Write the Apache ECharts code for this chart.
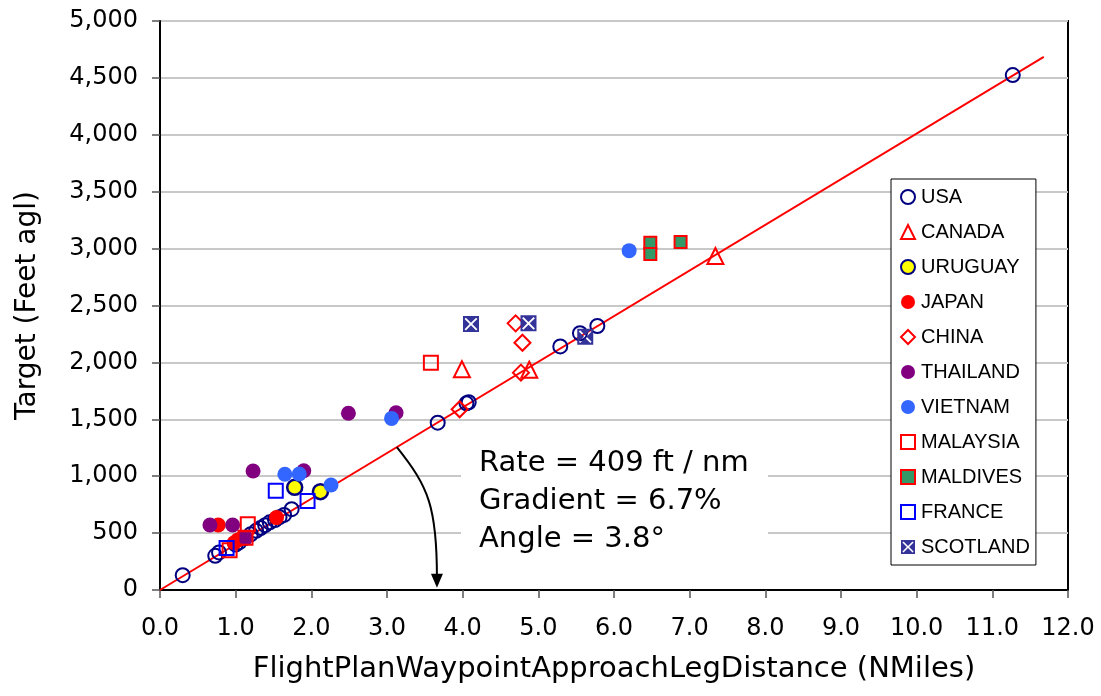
<!DOCTYPE html>
<html>
<head>
<meta charset="utf-8">
<script src="https://cdn.jsdelivr.net/npm/echarts@6/dist/echarts.min.js"></script>
<style>
  html, body { margin: 0; padding: 0; background: #fff; }
  #main { width: 1101px; height: 696px; }
</style>
</head>
<body>
<div id="main"></div>
<script>
// points: [distance nm, target ft]
var usa = [[0.3, 130], [0.73, 300], [0.78, 330], [1.0, 400], [1.05, 420], [1.12, 455], [1.2, 490],
  [1.27, 520], [1.33, 545], [1.39, 570], [1.45, 595], [1.52, 615], [1.58, 640], [1.64, 660],
  [1.74, 710], [3.67, 1470], [4.05, 1640], [4.08, 1650], [5.29, 2140], [5.55, 2256], [5.78, 2320],
  [11.27, 4525]];
var canada = [[3.99, 1940], [4.88, 1935], [7.34, 2935]];
var uruguay = [[1.78, 902], [2.12, 864]];
var japan = [[0.77, 571], [0.98, 415], [1.03, 440], [1.08, 455], [1.54, 636]];
var china = [[3.96, 1588], [4.70, 2343], [4.79, 2173], [4.77, 1910]];
var thailand = [[0.66, 571], [0.96, 571], [1.13, 460], [1.23, 1046], [1.9, 1048], [2.49, 1553], [3.12, 1558]];
var vietnam = [[1.65, 1017], [1.84, 1019], [2.26, 923], [3.06, 1508], [6.20, 2982]];
var malaysia = [[0.92, 350], [1.16, 577], [1.13, 460], [3.58, 1997]];
var maldives = [[6.48, 3052], [6.48, 2953], [6.88, 3058]];
var france = [[0.88, 370], [1.53, 873], [1.95, 782]];
var scotland = [[4.11, 2337], [4.87, 2343], [5.62, 2226]];

// trend line end points
var trend = [[0, 0], [11.68, 4685]];

var names = ['USA', 'CANADA', 'URUGUAY', 'JAPAN', 'CHINA', 'THAILAND', 'VIETNAM', 'MALAYSIA', 'MALDIVES', 'FRANCE', 'SCOTLAND'];
var noteLines = ['Rate = 409 ft / nm', 'Gradient = 6.7%', 'Angle = 3.8\u00b0'];

// square with an X cut out of it
var boxX = 'path://M0,0 H10 V10 H0 Z M1,1.8 L4.2,5 L1,8.2 L1.8,9 L5,5.8 L8.2,9 L9,8.2 L5.8,5 L9,1.8 L8.2,1 L5,4.2 L1.8,1 Z';

function pts(name, data, symbol, size, fill, border, bw) {
    return {
        name: name,
        type: 'scatter',
        data: data,
        symbol: symbol,
        symbolSize: size,
        itemStyle: { color: fill, borderColor: border, borderWidth: bw, opacity: 1 },
        emphasis: { disabled: true }
    };
}

var none = 'rgba(0,0,0,0)';
var axisFont = 'DejaVu Sans';

var option = {
    animation: false,
    backgroundColor: '#fff',
    grid: {
        left: 160, right: 33, top: 21, bottom: 106,
        show: true, borderColor: '#000', borderWidth: 2
    },
    legend: {
        data: names,
        orient: 'vertical',
        left: 891, top: 179,
        padding: [8, 6, 8, 9],
        itemWidth: 14, itemHeight: 14, itemGap: 15,
        backgroundColor: '#fff',
        borderColor: '#000', borderWidth: 1,
        selectedMode: false,
        textStyle: { fontFamily: 'Liberation Sans', fontSize: 20, color: '#000', padding: [0, 0, 0, 1] }
    },
    xAxis: {
        type: 'value',
        min: 0, max: 12, interval: 1,
        name: 'FlightPlanWaypointApproachLegDistance (NMiles)',
        nameLocation: 'middle',
        nameGap: 65,
        nameTextStyle: { fontFamily: axisFont, fontSize: 29, color: '#000' },
        axisLine: { lineStyle: { color: '#000', width: 2 } },
        axisTick: { length: 8, lineStyle: { color: '#555', width: 1.5 } },
        axisLabel: { margin: 27, fontFamily: axisFont, fontSize: 24, color: '#000',
            formatter: function (v) { return v.toFixed(1); } },
        splitLine: { show: false }
    },
    yAxis: {
        type: 'value',
        min: 0, max: 5000, interval: 500,
        name: 'Target (Feet agl)',
        nameLocation: 'middle',
        nameGap: 118,
        nameTextStyle: { fontFamily: axisFont, fontSize: 28, color: '#000' },
        axisLine: { show: true, lineStyle: { color: '#000', width: 2 } },
        axisTick: { show: true, length: 8, lineStyle: { color: '#555', width: 1.5 } },
        axisLabel: { margin: 22, fontFamily: axisFont, fontSize: 24, color: '#000',
            formatter: function (v) { return v.toLocaleString('en-US'); } },
        splitLine: { lineStyle: { color: '#c8c8c8', width: 2 } }
    },
    series: [
        {
            name: 'trend', type: 'line', data: trend, symbol: 'none',
            lineStyle: { color: '#ff0000', width: 2 }, z: 1, silent: true
        },
        pts('USA', usa, 'circle', 14, none, '#000080', 2),
        pts('CANADA', canada, 'triangle', 16, none, '#ff0000', 2),
        pts('URUGUAY', uruguay, 'circle', 15, '#ffff00', '#000080', 2.5),
        pts('JAPAN', japan, 'circle', 15, '#ff0000', '#ff0000', 0),
        pts('CHINA', china, 'diamond', 16, none, '#ff0000', 2),
        pts('THAILAND', thailand, 'circle', 15, '#800080', '#800080', 0),
        pts('VIETNAM', vietnam, 'circle', 15, '#3366ff', '#3366ff', 0),
        pts('MALAYSIA', malaysia, 'rect', 14, none, '#ff0000', 2),
        pts('MALDIVES', maldives, 'rect', 12, '#339966', '#ff0000', 2),
        pts('FRANCE', france, 'rect', 14, none, '#0000ff', 2),
        pts('SCOTLAND', scotland, boxX, 16, '#333399', '#333399', 0)
    ]
};

var myChart = echarts.init(document.getElementById('main'));
myChart.setOption(option);

// annotation: note box and curved arrow from the trend line down to the axis
var a0 = myChart.convertToPixel({ gridIndex: 0 }, [3.13, 1255]);
var a1 = myChart.convertToPixel({ gridIndex: 0 }, [3.66, 110]);
var tip = myChart.convertToPixel({ gridIndex: 0 }, [3.66, 20]);

myChart.setOption({
    graphic: [
        { type: 'rect', z: 1, shape: { x: 461, y: 443, width: 307, height: 122 }, style: { fill: '#fff' } },
        { type: 'text', z: 3, left: 479, top: 449, style: { text: noteLines[0], font: '29px "DejaVu Sans"', fill: '#000' } },
        { type: 'text', z: 3, left: 479, top: 487, style: { text: noteLines[1], font: '29px "DejaVu Sans"', fill: '#000' } },
        { type: 'text', z: 3, left: 479, top: 525, style: { text: noteLines[2], font: '29px "DejaVu Sans"', fill: '#000' } },
        {
            type: 'bezierCurve', z: 3,
            shape: { x1: a0[0], y1: a0[1], cpx1: a0[0] + 32, cpy1: a0[1] + 40, cpx2: a1[0], cpy2: a1[1] - 70, x2: a1[0], y2: a1[1] },
            style: { stroke: '#000', lineWidth: 2, fill: null }
        },
        {
            type: 'polygon', z: 3,
            shape: { points: [[tip[0] - 6, tip[1] - 14], [tip[0] + 6, tip[1] - 14], [tip[0], tip[1]]] },
            style: { fill: '#000' }
        }
    ]
});
</script>
</body>
</html>
